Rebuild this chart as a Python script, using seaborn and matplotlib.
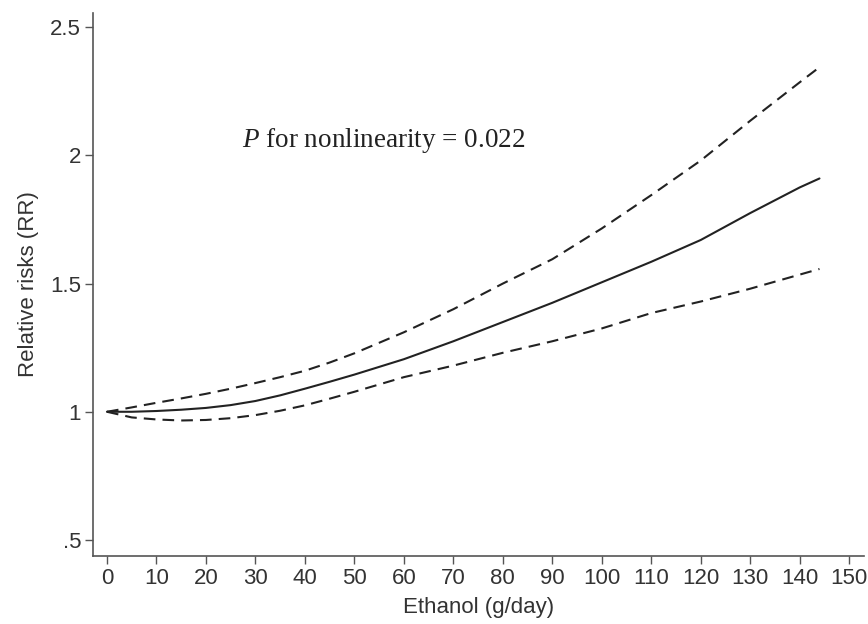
import matplotlib
matplotlib.use("Agg")
import matplotlib.pyplot as plt
import seaborn as sns
import pandas as pd

# Data
ethanol = [0, 5, 10, 15, 20, 25, 30, 35, 40, 45, 50, 60, 70, 80, 90, 100, 110, 120, 130, 140, 144]
rr = [1.0, 1.0, 1.003, 1.008, 1.015, 1.026, 1.042, 1.064, 1.09, 1.117, 1.145, 1.205, 1.275,
      1.35, 1.425, 1.505, 1.585, 1.67, 1.775, 1.875, 1.91]
upper = [1.0, 1.017, 1.035, 1.052, 1.07, 1.09, 1.112, 1.135, 1.16, 1.192, 1.228, 1.31, 1.40,
         1.50, 1.595, 1.715, 1.845, 1.98, 2.135, 2.285, 2.344]
lower = [1.0, 0.978, 0.97, 0.966, 0.968, 0.975, 0.987, 1.004, 1.025, 1.051, 1.078, 1.135,
         1.18, 1.23, 1.275, 1.325, 1.385, 1.43, 1.48, 1.535, 1.557]

xticks = list(range(0, 151, 10))
yticks = [0.5, 1, 1.5, 2, 2.5]
yticklabels = [".5", "1", "1.5", "2", "2.5"]
annotation = "$P$ for nonlinearity = 0.022"

df = pd.concat([
    pd.DataFrame({"x": ethanol, "y": rr, "s": "RR"}),
    pd.DataFrame({"x": ethanol, "y": upper, "s": "upper"}),
    pd.DataFrame({"x": ethanol, "y": lower, "s": "lower"}),
])

sns.set_theme(style="ticks")
plt.rcParams["font.family"] = ["Liberation Sans", "DejaVu Sans"]
plt.rcParams["mathtext.fontset"] = "custom"
plt.rcParams["mathtext.rm"] = "Liberation Serif"
plt.rcParams["mathtext.it"] = "Liberation Serif:italic"

fig = plt.figure(figsize=(8.68, 6.24), dpi=100)
ax = fig.add_axes([0.1071, 0.109, 0.8883, 0.870])

line_col = "#222222"
sns.lineplot(data=df, x="x", y="y", style="s", hue="s",
             palette={"RR": line_col, "upper": line_col, "lower": line_col},
             dashes={"RR": "", "upper": (5.6, 3.4), "lower": (5.6, 3.4)},
             linewidth=1.5, legend=False, ax=ax, estimator=None, sort=False)

ax.set_xlim(-2.83, 153.0)
ax.set_ylim(0.4375, 2.555)
ax.set_xticks(xticks)
ax.set_xticklabels([str(t) for t in xticks])
ax.set_yticks(yticks)
ax.set_yticklabels(yticklabels)

for s in ["top", "right"]:
    ax.spines[s].set_visible(False)
for s in ["left", "bottom"]:
    ax.spines[s].set_color("#555555")
    ax.spines[s].set_linewidth(1.2)
ax.tick_params(axis="both", direction="out", length=6, width=1.0, color="#555555",
               labelsize=16, labelcolor="#333333", pad=2.5)

ax.set_xlabel("Ethanol (g/day)", fontsize=16, color="#333333", labelpad=6)
ax.set_ylabel("Relative risks (RR)", fontsize=16, color="#333333", labelpad=8)

ax.text(27.3, 2.06, annotation, fontsize=19.5, family="Liberation Serif",
        color="#222222", va="center", ha="left")

fig.savefig("out.png", dpi=100)
